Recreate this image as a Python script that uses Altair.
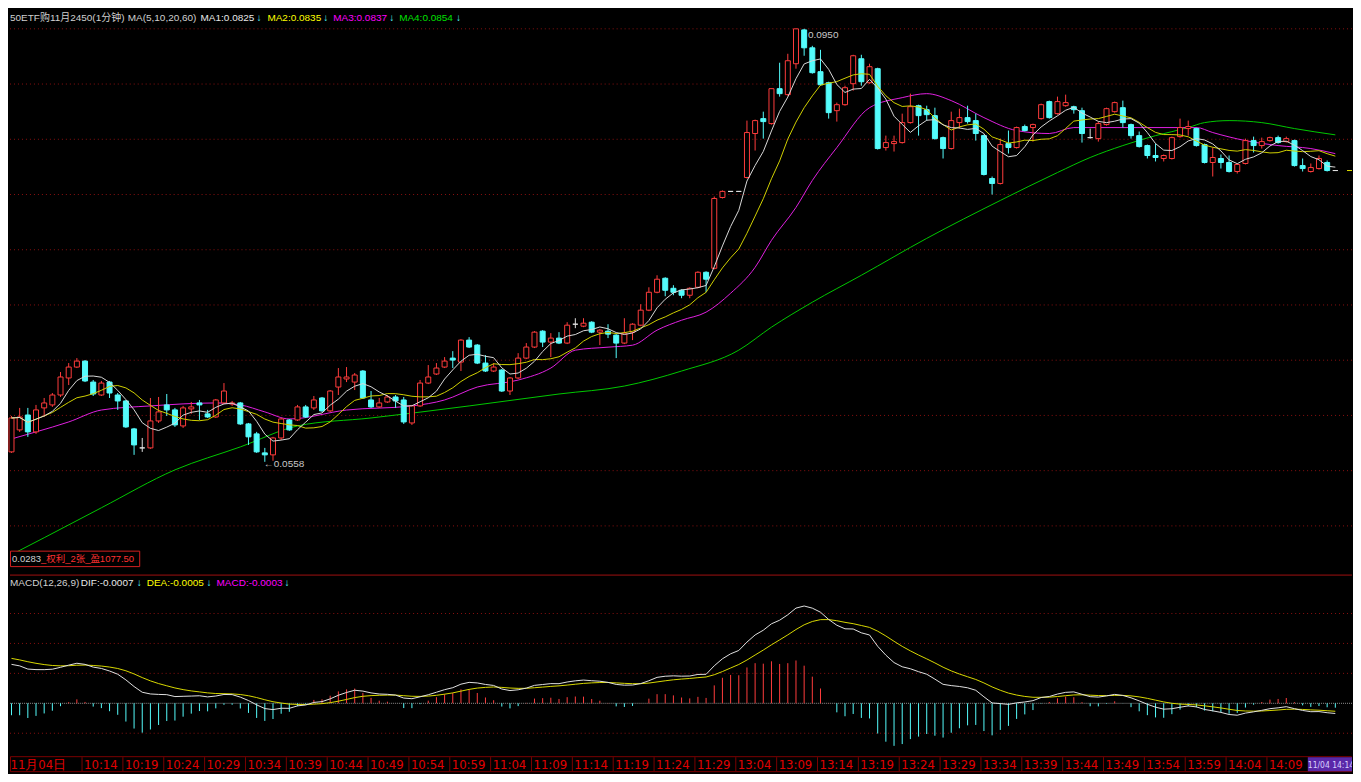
import altair as alt
import pandas as pd
import numpy as np

# ---------------- data ----------------
open_ = [0.05670,0.05869,0.06004,0.05851,0.06068,0.06095,0.06185,0.06339,0.06438,0.06492,
         0.06302,0.06185,0.06302,0.06185,0.06131,0.05878,0.05706,0.05706,0.05950,0.06095,
         0.06050,0.05905,0.06059,0.06113,0.06014,0.05986,0.06113,0.06104,0.06113,0.05923,
         0.05833,0.05661,0.05643,0.05796,0.05959,0.05959,0.06077,0.06068,0.06158,0.06041,
         0.06257,0.06330,0.06302,0.06402,0.06140,0.06077,0.06122,0.06167,0.06140,0.05932,
         0.06086,0.06293,0.06375,0.06438,0.06519,0.06483,0.06682,0.06637,0.06474,0.06402,
         0.06411,0.06221,0.06339,0.06519,0.06619,0.06763,0.06664,0.06700,0.06655,0.06826,
         0.06808,0.06844,0.06754,0.06763,0.06727,0.06655,0.06754,0.06817,0.06953,0.07115,
         0.07242,0.07151,0.07133,0.07088,0.07160,0.07296,0.07332,0.07973,0.08028,0.08028,
         0.08154,0.08552,0.08687,0.08642,0.08958,0.08904,0.09184,0.09490,0.09328,0.09112,
         0.09012,0.08759,0.08813,0.09003,0.09229,0.09012,0.09139,0.08425,0.08461,0.08470,
         0.08651,0.08804,0.08768,0.08714,0.08515,0.08416,0.08651,0.08696,0.08669,0.08533,
         0.08145,0.08100,0.08461,0.08425,0.08615,0.08606,0.08687,0.08841,0.08732,0.08804,
         0.08795,0.08759,0.08515,0.08506,0.08633,0.08750,0.08786,0.08633,0.08533,0.08443,
         0.08353,0.08326,0.08326,0.08524,0.08597,0.08597,0.08452,0.08290,0.08326,0.08290,
         0.08208,0.08281,0.08488,0.08443,0.08488,0.08515,0.08479,0.08488,0.08262,0.08208,
         0.08235,0.08290,0.08217]
high = [0.05995,0.06068,0.06068,0.06095,0.06158,0.06203,0.06393,0.06474,0.06519,0.06501,
        0.06321,0.06312,0.06312,0.06203,0.06140,0.05887,0.05796,0.06158,0.06167,0.06194,
        0.06068,0.06086,0.06122,0.06140,0.06050,0.06149,0.06293,0.06131,0.06122,0.05932,
        0.05851,0.05706,0.05806,0.05977,0.05968,0.06095,0.06095,0.06176,0.06167,0.06230,
        0.06429,0.06438,0.06384,0.06411,0.06221,0.06158,0.06185,0.06185,0.06167,0.06095,
        0.06321,0.06456,0.06474,0.06528,0.06582,0.06691,0.06709,0.06646,0.06546,0.06474,
        0.06420,0.06348,0.06564,0.06655,0.06763,0.06772,0.06745,0.06754,0.06844,0.06880,
        0.06880,0.06853,0.06781,0.06826,0.06736,0.06880,0.06835,0.07007,0.07160,0.07269,
        0.07251,0.07179,0.07142,0.07160,0.07305,0.07305,0.07982,0.08037,0.08028,0.08028,
        0.08669,0.08678,0.08750,0.08958,0.09193,0.09274,0.09500,0.09500,0.09346,0.09310,
        0.09021,0.08832,0.08985,0.09265,0.09265,0.09184,0.09148,0.08533,0.08533,0.08732,
        0.08913,0.08813,0.08804,0.08786,0.08524,0.08750,0.08777,0.08804,0.08732,0.08543,
        0.08163,0.08506,0.08579,0.08615,0.08633,0.08642,0.08823,0.08850,0.08886,0.08904,
        0.08804,0.08786,0.08597,0.08660,0.08786,0.08841,0.08850,0.08642,0.08570,0.08452,
        0.08461,0.08362,0.08524,0.08687,0.08669,0.08606,0.08461,0.08425,0.08362,0.08353,
        0.08281,0.08506,0.08524,0.08515,0.08524,0.08533,0.08524,0.08497,0.08326,0.08281,
        0.08353,0.08308,0.08217]
low = [0.05661,0.05851,0.05806,0.05833,0.05986,0.06077,0.06167,0.06275,0.06429,0.06302,
       0.06176,0.06176,0.06158,0.06050,0.05887,0.05643,0.05670,0.05697,0.05932,0.05995,
       0.05896,0.05887,0.06014,0.05959,0.05977,0.05977,0.06104,0.06086,0.05914,0.05733,
       0.05661,0.05580,0.05589,0.05778,0.05860,0.05950,0.05977,0.06050,0.06032,0.06032,
       0.06185,0.06302,0.06230,0.06149,0.06068,0.06068,0.06113,0.06068,0.05923,0.05914,
       0.06077,0.06284,0.06366,0.06429,0.06429,0.06402,0.06610,0.06465,0.06393,0.06393,
       0.06212,0.06185,0.06330,0.06510,0.06610,0.06619,0.06528,0.06646,0.06646,0.06790,
       0.06799,0.06745,0.06637,0.06700,0.06519,0.06646,0.06682,0.06808,0.06944,0.07106,
       0.07079,0.07088,0.07061,0.07061,0.07151,0.07115,0.07323,0.07964,0.08028,0.08028,
       0.08145,0.08398,0.08506,0.08633,0.08886,0.08895,0.09139,0.09256,0.09094,0.08985,
       0.08687,0.08660,0.08804,0.08940,0.08985,0.09003,0.08407,0.08398,0.08389,0.08461,
       0.08642,0.08533,0.08669,0.08497,0.08326,0.08407,0.08597,0.08642,0.08488,0.08172,
       0.08000,0.08091,0.08371,0.08416,0.08570,0.08479,0.08678,0.08687,0.08723,0.08795,
       0.08732,0.08470,0.08506,0.08479,0.08624,0.08741,0.08606,0.08506,0.08425,0.08326,
       0.08299,0.08299,0.08317,0.08515,0.08533,0.08434,0.08281,0.08163,0.08235,0.08199,
       0.08190,0.08272,0.08380,0.08416,0.08479,0.08461,0.08470,0.08253,0.08208,0.08199,
       0.08226,0.08208,0.08217]
close = [0.05977,0.05986,0.05851,0.06050,0.06113,0.06185,0.06348,0.06438,0.06492,0.06312,
         0.06194,0.06293,0.06203,0.06131,0.05896,0.05733,0.05706,0.05950,0.06032,0.06050,
         0.05914,0.06068,0.06077,0.06095,0.05986,0.06140,0.06221,0.06113,0.05923,0.05806,
         0.05670,0.05643,0.05796,0.05968,0.05869,0.06077,0.05986,0.06140,0.06041,0.06221,
         0.06348,0.06348,0.06366,0.06158,0.06077,0.06113,0.06167,0.06131,0.05941,0.06086,
         0.06293,0.06348,0.06429,0.06492,0.06501,0.06682,0.06619,0.06474,0.06402,0.06438,
         0.06221,0.06339,0.06519,0.06619,0.06754,0.06664,0.06700,0.06655,0.06817,0.06826,
         0.06835,0.06754,0.06772,0.06736,0.06655,0.06745,0.06826,0.06953,0.07115,0.07233,
         0.07133,0.07115,0.07088,0.07151,0.07296,0.07233,0.07964,0.08028,0.08028,0.08028,
         0.08561,0.08669,0.08660,0.08958,0.08913,0.09211,0.09500,0.09328,0.09103,0.08994,
         0.08741,0.08813,0.08967,0.09256,0.09021,0.09157,0.08416,0.08470,0.08479,0.08651,
         0.08795,0.08714,0.08723,0.08506,0.08416,0.08669,0.08696,0.08660,0.08552,0.08181,
         0.08100,0.08452,0.08425,0.08606,0.08579,0.08633,0.08813,0.08696,0.08841,0.08832,
         0.08768,0.08552,0.08515,0.08642,0.08777,0.08832,0.08651,0.08533,0.08434,0.08353,
         0.08335,0.08353,0.08515,0.08606,0.08615,0.08443,0.08290,0.08335,0.08290,0.08208,
         0.08272,0.08488,0.08443,0.08479,0.08515,0.08470,0.08506,0.08262,0.08235,0.08244,
         0.08326,0.08217,0.08217]

# MA20 / MA60 (bar index, value)
ma20_idx = [0, 3, 7, 11, 17, 25, 28, 31, 34, 41, 49, 53, 57, 62, 66, 69, 73, 76, 79, 82,
            85, 88, 91, 93, 96, 98, 101, 105, 109, 112, 115, 119, 123, 127, 130, 136, 145,
            147, 151, 155, 159, 162]
ma20_val = [0.05787,0.05851,0.05941,0.06049,0.06086,0.06113,0.06095,0.06032,0.05968,0.06049,
            0.06086,0.06140,0.06257,0.06320,0.06429,0.06591,0.06618,0.06636,0.06772,0.06862,
            0.06935,0.07106,0.07341,0.07585,0.07883,0.08127,0.08425,0.08786,0.08877,0.08913,
            0.08850,0.08696,0.08579,0.08552,0.08606,0.08606,0.08606,0.08561,0.08488,0.08443,
            0.08416,0.08370]
ma60_idx = [0, 4, 11, 20, 28, 35, 44, 56, 67, 75, 82, 89, 93, 98, 104, 112, 121, 128, 132,
            136, 140, 144, 146, 149, 153, 157, 162]
ma60_val = [0.04740,0.04893,0.05164,0.05507,0.05715,0.05905,0.05977,0.06086,0.06194,0.06266,
            0.06402,0.06591,0.06799,0.07025,0.07269,0.07603,0.07946,0.08199,0.08335,0.08443,
            0.08533,0.08606,0.08651,0.08669,0.08651,0.08597,0.08540]

# MACD seeds (state just before the first visible bar)
seed_ema12 = 0.0585
seed_ema26 = 0.0558
seed_dea = 0.0031

tick_idx = [0] + list(range(9, 85, 5)) + list(range(89, 155, 5))
tick_lbl = ["11月04日", "10:14", "10:19", "10:24", "10:29", "10:34", "10:39", "10:44", "10:49",
            "10:54", "10:59", "11:04", "11:09", "11:14", "11:19", "11:24", "11:29",
            "13:04", "13:09", "13:14", "13:19", "13:24", "13:29", "13:34", "13:39", "13:44",
            "13:49", "13:54", "13:59", "14:04", "14:09"]
cursor_idx = [159]
cursor_lbl = ["11/04 14:14"]

grid_price = [0.095, 0.090, 0.085, 0.080, 0.075, 0.070, 0.065, 0.060, 0.055, 0.050]
grid_macd = [0.006, 0.004, 0.002, -0.002]

# ---------------- tables ----------------
n = len(close)
df = pd.DataFrame({"i": range(n), "o": open_, "h": high, "l": low, "c": close})
df["dir"] = np.where(df.c > df.o, "up", np.where(df.c < df.o, "down", "flat"))
df["ma5"] = df.c.rolling(5, min_periods=1).mean()
df["ma10"] = df.c.rolling(10, min_periods=1).mean()

e12, e26, dea = seed_ema12, seed_ema26, seed_dea
difs, deas = [], []
for c in close:
    e12 = e12 * 11 / 13 + c * 2 / 13
    e26 = e26 * 25 / 27 + c * 2 / 27
    d = e12 - e26
    dea = dea * 8 / 10 + d * 2 / 10
    difs.append(d)
    deas.append(dea)
df["dif"] = difs
df["dea"] = deas
df["macd"] = 2 * (df.dif - df.dea)
df["z"] = 0.0
df["sgn"] = np.where(df.macd >= 0, "pos", "neg")

ma20 = pd.DataFrame({"i": ma20_idx, "v": ma20_val})
ma60 = pd.DataFrame({"i": ma60_idx, "v": ma60_val})
ticks = pd.DataFrame({"i": tick_idx, "t": tick_lbl})
cursor = pd.DataFrame({"i": cursor_idx, "t": cursor_lbl})
gp = pd.DataFrame({"g": grid_price})
gm = pd.DataFrame({"g": grid_macd})
last = df.tail(1)
hi_row = df.loc[[df.h.idxmax()]]
lo_row = df.loc[[df.l.idxmin()]]

# ---------------- layout ----------------
W = 1345
H1, H2, H3 = 568, 178, 20
PX = 8.19  # pixels per bar
XS = alt.Scale(domain=[-0.183, -0.183 + W / PX], nice=False, zero=False, padding=0)
YP = alt.Scale(domain=[0.045501, 0.096807], nice=False, zero=False, padding=0)
K = 15000.0
YM = alt.Scale(domain=[-(H2 - 128) / K, 128 / K], nice=False, zero=False, padding=0)

FONT = "Liberation Sans, Noto Sans CJK SC, sans-serif"
NARROW = "Liberation Sans Narrow, DejaVu Sans Condensed, Liberation Sans, sans-serif"
GRID_RED = "#8a1010"
UP = "#ff3c3c"
DN = "#54fcfc"
FS = 10

one = pd.DataFrame({"a": [0]})


def txt(s, x, y, color, size=FS, font=FONT, align="left"):
    return alt.Chart(one).mark_text(text=s, align=align, baseline="middle", font=font,
                                    fontSize=size, color=color, clip=True).encode(
        x=alt.value(x), y=alt.value(y))


X = alt.X("i:Q", scale=XS, axis=None)

# --- price panel ---
base = alt.Chart(df)
grid1 = alt.Chart(gp).mark_rule(color=GRID_RED, strokeDash=[1, 3], strokeWidth=1).encode(
    y=alt.Y("g:Q", scale=YP, axis=None))
l60 = alt.Chart(ma60).mark_line(color="#00c800", strokeWidth=1, interpolate="monotone").encode(
    x=X, y=alt.Y("v:Q", scale=YP, axis=None))
l20 = alt.Chart(ma20).mark_line(color="#e020e0", strokeWidth=1, interpolate="monotone").encode(
    x=X, y=alt.Y("v:Q", scale=YP, axis=None))
dir_stroke = alt.Stroke("dir:N", scale=alt.Scale(domain=["up", "down", "flat"],
                                                 range=[UP, DN, "#e0e0e0"]), legend=None)
dir_fill = alt.Fill("dir:N", scale=alt.Scale(domain=["up", "down", "flat"],
                                             range=["#000000", DN, "#e0e0e0"]), legend=None)
wick = base.mark_rule(strokeWidth=1).encode(
    x=X, y=alt.Y("l:Q", scale=YP, axis=None), y2="h:Q", stroke=dir_stroke)
body = base.mark_bar(size=5, strokeWidth=1).encode(
    x=X, y=alt.Y("o:Q", scale=YP, axis=None), y2="c:Q", fill=dir_fill, stroke=dir_stroke)
l10 = base.mark_line(color="#d0d000", strokeWidth=1).encode(
    x=X, y=alt.Y("ma10:Q", scale=YP, axis=None))
l5 = base.mark_line(color="#d8d8d8", strokeWidth=1).encode(
    x=X, y=alt.Y("ma5:Q", scale=YP, axis=None))
hi_lbl = alt.Chart(hi_row).mark_text(text="0.0950", align="left", baseline="middle", dx=12, dy=6,
                                     font=FONT, fontSize=FS, color="#c8c8c8").encode(
    x=X, y=alt.Y("h:Q", scale=YP, axis=None))
lo_lbl = alt.Chart(lo_row).mark_text(text="←0.0558", align="left", baseline="middle", dx=-1, dy=2,
                                     font=FONT, fontSize=FS, color="#c8c8c8").encode(
    x=X, y=alt.Y("l:Q", scale=YP, axis=None))
cur_mark = alt.Chart(last).mark_rule(color="#e0e000", strokeWidth=1).encode(
    y=alt.Y("c:Q", scale=YP, axis=None), x=alt.value(W - 5), x2=alt.value(W))

hdr = [
    txt("50ETF购11月2450(1分钟)", 0, 9, "#d0d0d0"),
    txt("MA(5,10,20,60)", 118, 9, "#d0d0d0"),
    txt("MA1:0.0825", 191, 9, "#e8e8e8"),
    txt("↓", 247, 9, DN),
    txt("MA2:0.0835", 258, 9, "#ffff00"),
    txt("↓", 314, 9, DN),
    txt("MA3:0.0837", 324, 9, "#ff00ff"),
    txt("↓", 380, 9, DN),
    txt("MA4:0.0854", 390, 9, "#00e000"),
    txt("↓", 447, 9, DN),
]
pos_box = alt.Chart(one).mark_rect(fill="#000000", stroke="#d02020", strokeWidth=1).encode(
    x=alt.value(0.5), x2=alt.value(130), y=alt.value(543.5), y2=alt.value(559))
pos_txt = [
    txt("0.0283", 2, 551, "#d0d0d0", size=9.5),
    txt("_权利_2张_盈1077.50", 31, 551, "#ff3030", size=9.5),
]
sep = alt.Chart(one).mark_rule(color="#a01010", strokeWidth=1).encode(
    x=alt.value(0), x2=alt.value(W), y=alt.value(H1 - 0.5))

price = alt.layer(grid1, l60, l20, wick, body, l10, l5, hi_lbl, lo_lbl, cur_mark,
                  pos_box, *pos_txt, sep, *hdr).properties(width=W, height=H1)

# --- MACD panel ---
mb = alt.Chart(df)
grid2 = alt.Chart(gm).mark_rule(color=GRID_RED, strokeDash=[1, 3], strokeWidth=1).encode(
    y=alt.Y("g:Q", scale=YM, axis=None))
zero = alt.Chart(one).mark_rule(color="#909090", strokeDash=[1, 1], strokeWidth=1).encode(
    y=alt.Y("a:Q", scale=YM, axis=None))
bars = mb.mark_rule(strokeWidth=1).encode(
    x=X, y=alt.Y("z:Q", scale=YM, axis=None), y2="macd:Q",
    stroke=alt.Stroke("sgn:N", scale=alt.Scale(domain=["pos", "neg"], range=[UP, "#20c8d8"]),
                      legend=None))
ldea = mb.mark_line(color="#d8d800", strokeWidth=1).encode(x=X, y=alt.Y("dea:Q", scale=YM, axis=None))
ldif = mb.mark_line(color="#e0e0e0", strokeWidth=1).encode(x=X, y=alt.Y("dif:Q", scale=YM, axis=None))
mhdr = [
    txt("MACD(12,26,9)", 0, 7, "#d0d0d0"),
    txt("DIF:-0.0007", 71, 7, "#e8e8e8"),
    txt("↓", 127, 7, DN),
    txt("DEA:-0.0005", 137, 7, "#ffff00"),
    txt("↓", 197, 7, DN),
    txt("MACD:-0.0003", 207, 7, "#ff00ff"),
    txt("↓", 275, 7, DN),
]
macd = alt.layer(grid2, zero, bars, ldea, ldif, *mhdr).properties(width=W, height=H2)

# --- time axis ---
frame = alt.Chart(one).mark_rect(fill="#000000", stroke="#7a0000", strokeWidth=1).encode(
    x=alt.value(0.5), x2=alt.value(W - 0.5), y=alt.value(3.5), y2=alt.value(18.5))
divs = alt.Chart(ticks.iloc[1:]).mark_rule(color="#7a0000", strokeWidth=1).encode(
    x=X, xOffset=alt.value(-3), y=alt.value(4), y2=alt.value(18))
tlab = alt.Chart(ticks).mark_text(align="left", baseline="middle", dx=-1, font=NARROW,
                                  fontSize=13, color="#e00000", clip=True).encode(
    x=X, y=alt.value(11.5), text="t:N")
cbox = alt.Chart(cursor).mark_rect(fill="#5a28a8").encode(
    x=X, xOffset=alt.value(-3), x2=alt.value(W), y=alt.value(4), y2=alt.value(18))
ctxt = alt.Chart(cursor).mark_text(align="left", baseline="middle", dx=-3, font=NARROW,
                                   fontSize=8.5, color="#d8d0ff", clip=True).encode(
    x=X, y=alt.value(11.5), text="t:N")
axis_panel = alt.layer(frame, divs, tlab, cbox, ctxt).properties(width=W, height=H3)

chart = alt.vconcat(price, macd, axis_panel, spacing=0).properties(
    padding=0, background="#000000"
).configure_view(strokeWidth=0).configure_concat(spacing=0)

chart.save("out.html", embed_options={"renderer": "svg", "actions": False})
